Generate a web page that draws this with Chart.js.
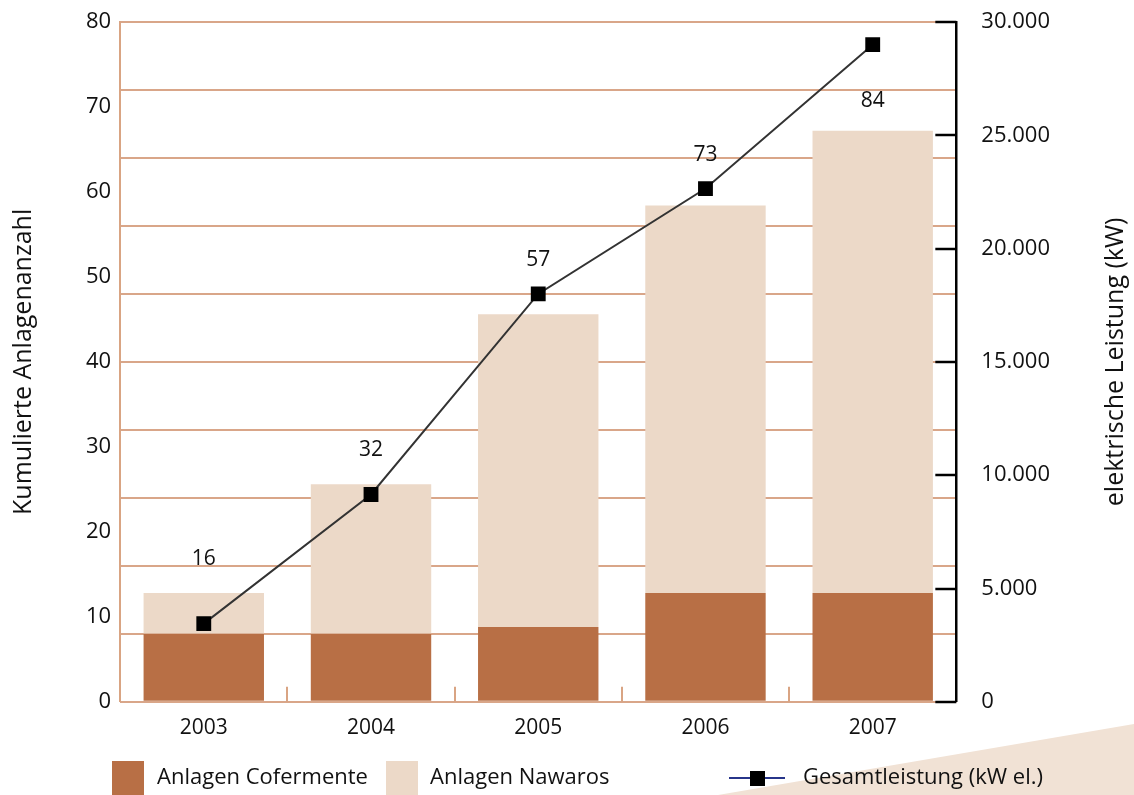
<!DOCTYPE html>
<html>
<head>
<meta charset="utf-8">
<script src="https://cdn.jsdelivr.net/npm/chart.js@4.4.1/dist/chart.umd.min.js"></script>
<style>
  html, body { margin: 0; padding: 0; background: #fff; }
  #wrap { width: 1134px; height: 795px; }
</style>
</head>
<body>
<div id="wrap"><canvas id="chart"></canvas></div>
<script>
// ─── Data ──────────────────────────────────────────────
const years       = ['2003', '2004', '2005', '2006', '2007'];
const cofermente  = [10, 10, 11, 16, 16];
const nawaros     = [6, 22, 46, 57, 68];
const leistung    = [3450, 9150, 18000, 22650, 29000];   // kW el.
const seriesNames = ['Anlagen Cofermente', 'Anlagen Nawaros', 'Gesamtleistung (kW el.)'];

// ─── Style ─────────────────────────────────────────────
const C = {
    dark:  '#b86f45',
    light: '#ecd9c8',
    grid:  'rgba(185,92,40,0.55)',
    axis:  '#d9a483',
    line:  '#333333',
    navy:  '#27358a',
    text:  '#111111',
    deco:  '#f1e2d5',
    font:  "'Open Sans', sans-serif"
};
const F = (size, lineHeight = 1.2) => ({ size, family: C.font, lineHeight });

const fmtThousands = v => String(v).replace(/\B(?=(\d{3})+(?!\d))/g, '.');

// background wedge, ticks, totals, titles, legend
const decor = {
    id: 'decor',
    beforeDraw(chart) {
        const { ctx, width, height } = chart;
        ctx.save();
        ctx.fillStyle = C.deco;
        ctx.beginPath();
        ctx.moveTo(718, height);
        ctx.lineTo(width, 724);
        ctx.lineTo(width, height);
        ctx.closePath();
        ctx.fill();
        ctx.restore();
    },
    afterDraw(chart) {
        const { ctx, chartArea: a, scales } = chart;
        const x = scales.x, yr = scales.yRight, yb = scales.yBars;
        ctx.save();

        // small ticks between categories
        ctx.strokeStyle = C.axis;
        ctx.lineWidth = 2;
        for (let i = 0; i < years.length - 1; i++) {
            const px = Math.round((x.getPixelForValue(i) + x.getPixelForValue(i + 1)) / 2);
            ctx.beginPath();
            ctx.moveTo(px, a.bottom);
            ctx.lineTo(px, a.bottom - 15);
            ctx.stroke();
        }

        // inward ticks on right axis
        ctx.strokeStyle = '#000';
        ctx.lineWidth = 2.5;
        yr.ticks.forEach(t => {
            const py = Math.round(yr.getPixelForValue(t.value));
            ctx.beginPath();
            ctx.moveTo(a.right - 21, py);
            ctx.lineTo(a.right, py);
            ctx.stroke();
        });

        // totals above bars
        ctx.fillStyle = C.text;
        ctx.font = `21px ${C.font}`;
        ctx.textAlign = 'center';
        ctx.textBaseline = 'middle';
        years.forEach((_, i) => {
            const total = cofermente[i] + nawaros[i];
            const barTop = yb.getPixelForValue(total);
            const mark = yr.getPixelForValue(leistung[i]);
            let py = Math.min(barTop, mark) - 34;
            if (py < a.top + 40) py = barTop - 30;
            ctx.fillText(String(total), x.getPixelForValue(i), py);
        });

        // axis titles
        ctx.font = `25px ${C.font}`;
        [[24, 'Kumulierte Anlagenanzahl'], [1116, 'elektrische Leistung (kW)']].forEach(([tx, label]) => {
            ctx.save();
            ctx.translate(tx, (a.top + a.bottom) / 2);
            ctx.rotate(-Math.PI / 2);
            ctx.fillText(label, 0, 0);
            ctx.restore();
        });

        // legend
        const ly = 778;
        ctx.font = `22px ${C.font}`;
        ctx.textAlign = 'left';
        ctx.fillStyle = C.dark;
        ctx.fillRect(112, 761, 32, 34);
        ctx.fillStyle = C.light;
        ctx.fillRect(386, 761, 32, 34);
        ctx.strokeStyle = C.navy;
        ctx.lineWidth = 2;
        ctx.beginPath();
        ctx.moveTo(729, ly);
        ctx.lineTo(785, ly);
        ctx.stroke();
        ctx.fillStyle = '#000';
        ctx.fillRect(750, ly - 7, 15, 15);
        ctx.fillStyle = C.text;
        ctx.fillText(seriesNames[0], 157, ly);
        ctx.fillText(seriesNames[1], 430, ly);
        ctx.fillText(seriesNames[2], 803, ly);

        ctx.restore();
    }
};

new Chart(document.getElementById('chart').getContext('2d'), {
    data: {
        labels: years,
        datasets: [
            {
                type: 'line',
                label: seriesNames[2],
                data: leistung,
                yAxisID: 'yRight',
                borderColor: C.line,
                borderWidth: 2,
                pointStyle: 'rect',
                pointRadius: 10.5,
                pointBackgroundColor: '#000',
                pointBorderColor: '#000',
                pointBorderWidth: 0,
                tension: 0,
                order: 0
            },
            {
                type: 'bar',
                label: seriesNames[0],
                data: cofermente,
                yAxisID: 'yBars',
                backgroundColor: C.dark,
                stack: 's',
                barPercentage: 0.72,
                categoryPercentage: 1,
                order: 1
            },
            {
                type: 'bar',
                label: seriesNames[1],
                data: nawaros,
                yAxisID: 'yBars',
                backgroundColor: C.light,
                stack: 's',
                barPercentage: 0.72,
                categoryPercentage: 1,
                order: 1
            }
        ]
    },
    options: {
        responsive: true,
        maintainAspectRatio: false,
        animation: false,
        layout: { padding: { left: 77, right: 75, top: 22, bottom: 48 } },
        plugins: {
            legend: { display: false },
            tooltip: { enabled: false }
        },
        scales: {
            x: {
                stacked: true,
                grid: { display: false },
                border: { display: false },
                ticks: { color: C.text, font: F(21), padding: 6, maxRotation: 0 }
            },
            yBars: {
                position: 'left',
                stacked: true,
                min: 0, max: 100,
                weight: 0,
                z: 1,
                grid: { color: C.grid, lineWidth: 2, drawTicks: false },
                border: { display: false },
                ticks: { display: false, stepSize: 10 }
            },
            yLeft: {
                position: 'left',
                min: 0, max: 80,
                weight: 1,
                grid: { drawOnChartArea: false, drawTicks: false },
                border: { color: C.axis, width: 2 },
                ticks: { stepSize: 10, color: C.text, font: F(22, 0.5), padding: 9 }
            },
            yRight: {
                position: 'right',
                min: 0, max: 30000,
                grid: { drawOnChartArea: false, drawTicks: true, tickLength: 16, tickColor: 'rgba(0,0,0,0)' },
                border: { color: '#000', width: 2.5 },
                ticks: {
                    stepSize: 5000, color: C.text, font: F(22, 0.5), padding: 9,
                    callback: v => fmtThousands(v)
                }
            }
        }
    },
    plugins: [decor]
});
</script>
</body>
</html>
